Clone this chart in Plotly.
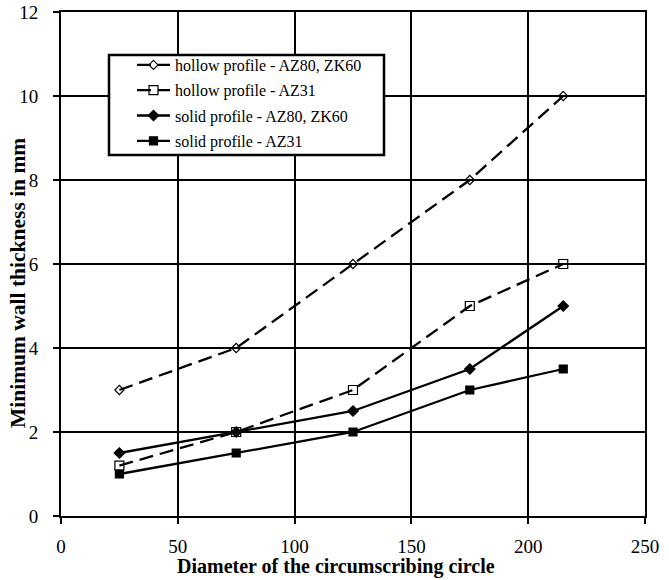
import plotly.graph_objects as go

diameter = [25, 75, 125, 175, 215]
hollow_az80_zk60 = [3, 4, 6, 8, 10]
hollow_az31 = [1.2, 2, 3, 5, 6]
solid_az80_zk60 = [1.5, 2, 2.5, 3.5, 5]
solid_az31 = [1, 1.5, 2, 3, 3.5]

x_title = "Diameter of the circumscribing circle"
y_title = "Minimum wall thickness in mm"

series = [
    ("hollow profile - AZ80, ZK60", hollow_az80_zk60, "14px,7px", "diamond-open", 7),
    ("hollow profile - AZ31", hollow_az31, "14px,7px", "square-open", 9),
    ("solid profile - AZ80, ZK60", solid_az80_zk60, "solid", "diamond", 8),
    ("solid profile - AZ31", solid_az31, "solid", "square", 8),
]

fig = go.Figure()
for i, (name, vals, dash, sym, size) in enumerate(series):
    fig.add_trace(go.Scatter(
        x=diameter, y=vals, name=name, mode="lines+markers",
        legendgroup=f"g{i}",
        line=dict(color="black", width=2.3, dash=dash),
        marker=dict(symbol=sym, size=size, color="black",
                    line=dict(color="black", width=1.2)),
    ))

font_family = "'Times New Roman', 'Liberation Serif', Times, serif"

# plot area in pixels: x 61..645, y 12..516
L, R, T, B = 61, 24, 12, 64
W, H = 669, 580
pw, ph = W - L - R, H - T - B


def px_x(p):
    return (p - L) / pw


def px_y(p):
    return (H - B - p) / ph


# framed white box behind the legend entries
fig.add_shape(type="rect", xref="paper", yref="paper",
              x0=px_x(109), x1=px_x(384), y0=px_y(155), y1=px_y(55),
              fillcolor="white", line=dict(color="black", width=2.5), layer="above")

# axis titles
fig.add_annotation(text=f"<b>{x_title}</b>", xref="paper", yref="paper",
                   x=px_x(336), y=px_y(566), xanchor="center", yanchor="middle",
                   showarrow=False, font=dict(family=font_family, size=20))
fig.add_annotation(text=f"<b>{y_title}</b>", xref="paper", yref="paper",
                   x=px_x(18), y=px_y(283), xanchor="center", yanchor="middle",
                   textangle=-90, showarrow=False, font=dict(family=font_family, size=21.5))

fig.update_layout(
    width=W, height=H,
    margin=dict(l=L, r=R, t=T, b=B),
    plot_bgcolor="white", paper_bgcolor="white",
    font=dict(family=font_family, size=19, color="black"),
    showlegend=True,
    legend=dict(
        x=px_x(132), y=px_y(48), xanchor="left", yanchor="top",
        bgcolor="rgba(0,0,0,0)", borderwidth=0,
        font=dict(family=font_family, size=16, color="black"),
        tracegroupgap=1.5, itemwidth=33,
    ),
    xaxis=dict(
        range=[0, 250], tickvals=[0, 50, 100, 150, 200, 250],
        showgrid=True, gridcolor="black", gridwidth=2,
        showline=True, linecolor="black", linewidth=2, mirror=True,
        ticks="outside", ticklen=6, tickwidth=2, tickcolor="black",
        ticklabelstandoff=6, automargin=False,
        tickfont=dict(family=font_family, size=19),
        zeroline=False,
    ),
    yaxis=dict(
        range=[0, 12], tickvals=[0, 2, 4, 6, 8, 10, 12],
        showgrid=True, gridcolor="black", gridwidth=2,
        showline=True, linecolor="black", linewidth=2, mirror=True,
        ticks="outside", ticklen=6, tickwidth=2, tickcolor="black",
        ticklabelstandoff=11, automargin=False,
        tickfont=dict(family=font_family, size=19),
        zeroline=False,
    ),
)

fig.write_html("out.html")
